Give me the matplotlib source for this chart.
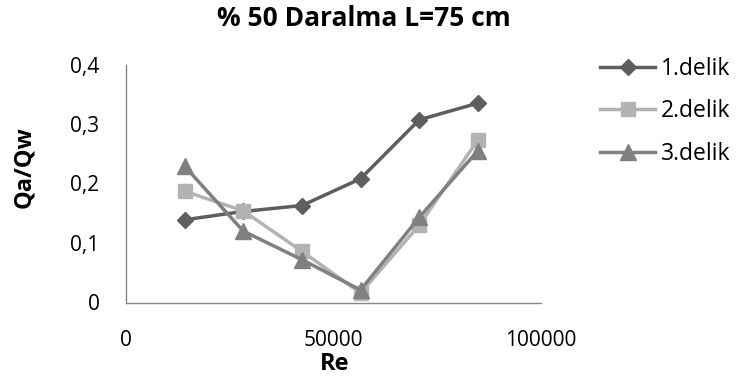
import matplotlib
matplotlib.use("Agg")
import matplotlib.pyplot as plt

plt.rcParams['font.family'] = ['Open Sans', 'DejaVu Sans']

# data
re_vals = [14130, 28260, 42390, 56520, 70650, 84780]
delik1 = [0.139, 0.153, 0.163, 0.208, 0.307, 0.335]
delik2 = [0.187, 0.154, 0.086, 0.016, 0.130, 0.273]
delik3 = [0.229, 0.120, 0.072, 0.021, 0.143, 0.255]
series_names = ['1.delik', '2.delik', '3.delik']

x_ticks = [0, 50000, 100000]
x_ticklabels = ['0', '50000', '100000']
y_ticks = [0, 0.1, 0.2, 0.3, 0.4]
y_ticklabels = ['0', '0,1', '0,2', '0,3', '0,4']

fig = plt.figure(figsize=(7.36, 3.81), dpi=100)
ax = fig.add_axes([126/736, 1 - 302.5/381, 415/736, 238/381])

ax.plot(re_vals, delik1, color='#5e5e5e', lw=2.5, marker='D', ms=8.5, label=series_names[0])
ax.plot(re_vals, delik2, color='#b3b3b3', lw=2.5, marker='s', ms=10, label=series_names[1])
ax.plot(re_vals, delik3, color='#808080', lw=2.5, marker='^', ms=11, label=series_names[2])

ax.set_xlim(0, 100000)
ax.set_ylim(0, 0.4)
ax.set_xticks(x_ticks)
ax.set_xticklabels(x_ticklabels)
ax.set_yticks(y_ticks)
ax.set_yticklabels(y_ticklabels)
ax.tick_params(length=0, labelsize=15)
ax.tick_params(axis='y', pad=19)
ax.tick_params(axis='x', pad=20)

for side in ['top', 'right']:
    ax.spines[side].set_visible(False)
for side in ['left', 'bottom']:
    ax.spines[side].set_color('#888888')
    ax.spines[side].set_linewidth(1)

fig.text(364/736, 1 - 19/381, '% 50 Daralma L=75 cm', ha='center', va='center',
         fontsize=19, fontweight='bold')
fig.text(24/736, 1 - 167/381, 'Qa/Qw', ha='center', va='center', rotation=90,
         fontsize=17, fontweight='bold')
fig.text(335/736, 1 - 364/381, 'Re', ha='center', va='center',
         fontsize=17, fontweight='bold')

fig.legend(loc='upper left', bbox_to_anchor=(600/736, 1 - 57/381), frameon=False,
           fontsize=16.5, handlelength=2.4, handletextpad=0.25, labelspacing=0.8,
           borderaxespad=0, borderpad=0)

fig.savefig('out.png', dpi=100)
